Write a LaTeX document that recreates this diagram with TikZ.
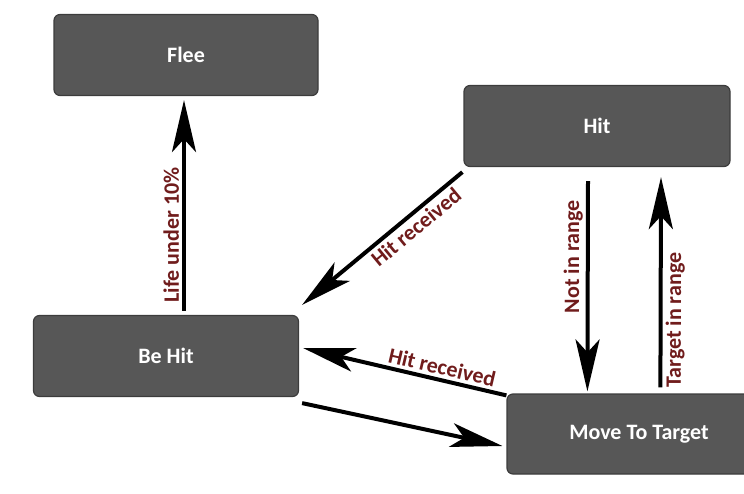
\documentclass[tikz,border=0pt]{standalone}
\usepackage{fontspec}
\setmainfont{Carlito}
\usetikzlibrary{arrows.meta}
\definecolor{boxgray}{HTML}{575757}
\definecolor{boxedge}{HTML}{3C3C3C}
\definecolor{labelred}{HTML}{701C1C}

\begin{document}
\begin{tikzpicture}[x=1pt,y=-1pt,
  state node/.style={rectangle,rounded corners=6pt,draw=boxedge,line width=1.2pt,fill=boxgray,
    text=white,font=\fontsize{22}{26}\selectfont\bfseries,minimum height=81pt},
  trans/.style={line width=4pt,-{Stealth[length=52pt,width=24pt,inset=13pt]}},
  cond/.style={text=labelred,font=\fontsize{22}{26}\selectfont\bfseries,inner sep=3pt}]

  \useasboundingbox (0,0) rectangle (744,493);

  \node[state node,minimum width=264pt] (flee) at (186,55) {Flee};
  \node[state node,minimum width=266pt] (hit) at (597,126) {Hit};

  \node[state node,minimum width=265pt] (behit) at (166,356) {Be Hit};
  \node[state node,minimum width=264pt,minimum height=80pt] (move) at (639,434) {Move To Target};

  \path
   ([xshift=18pt,yshift=4pt]behit.north) edge [trans] node [cond, sloped, above, pos=0.36] {Life under 10\%} ([xshift=-2pt,yshift=-4pt]flee.south)
   ([xshift=-1pt,yshift=-5pt]hit.south west) edge [trans] node [cond, sloped, below, pos=0.34] {Hit received} ([xshift=3pt,yshift=10pt]behit.north east)
   ([xshift=-9pt,yshift=-14pt]hit.south) edge [trans] node [cond, rotate=90, anchor=south, pos=0.36] {Not in range} ([xshift=81pt,yshift=2pt]move.north west)
   ([xshift=154pt,yshift=6pt]move.north west) edge [trans] node [cond, sloped, below, pos=0.32] {Target in range} ([xshift=64pt,yshift=-10pt]hit.south)
   ([yshift=-2pt]move.north west) edge [trans] node [cond, sloped, above, pos=0.33] {Hit received} ([xshift=4pt,yshift=8pt]behit.east)
   ([xshift=3pt,yshift=-6pt]behit.south east) edge [trans] ([xshift=-4pt,yshift=-12pt]move.west);

\end{tikzpicture}
\end{document}
